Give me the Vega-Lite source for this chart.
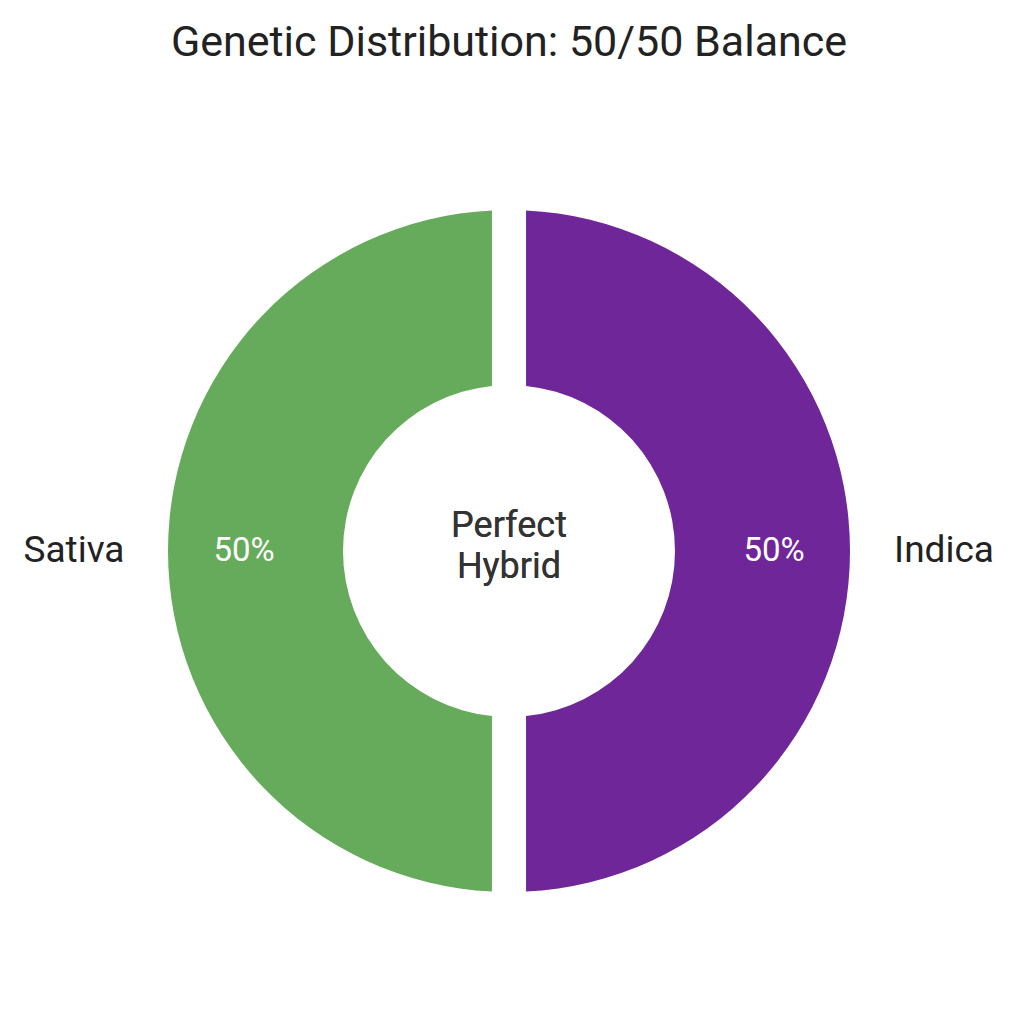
{
  "$schema": "https://vega.github.io/schema/vega-lite/v6.json",
  "width": 1018,
  "height": 942,
  "autosize": "none",
  "padding": {"top": 80, "left": 0, "right": 0, "bottom": 0},
  "background": "white",
  "title": {
    "text": "Genetic Distribution: 50/50 Balance",
    "font": "Roboto",
    "fontSize": 43,
    "fontWeight": "normal",
    "color": "#222222",
    "offset": 15
  },
  "data": {
    "values": [
      {"strain": "Indica", "share": 0.5, "order": 1},
      {"strain": "Sativa", "share": 0.5, "order": 2}
    ]
  },
  "layer": [
    {
      "mark": {"type": "arc", "innerRadius": 166, "outerRadius": 341, "padAngle": 0.09},
      "encoding": {
        "theta": {"field": "share", "type": "quantitative", "stack": true},
        "order": {"field": "order"},
        "color": {
          "field": "strain",
          "type": "nominal",
          "scale": {"domain": ["Sativa", "Indica"], "range": ["#66ab5c", "#6f2699"]},
          "legend": null
        }
      }
    },
    {
      "mark": {"type": "text", "radius": 265, "font": "Roboto", "fontSize": 33, "color": "white", "baseline": "middle"},
      "encoding": {
        "theta": {"field": "share", "type": "quantitative", "stack": true},
        "order": {"field": "order"},
        "text": {"field": "share", "type": "quantitative", "format": ".0%"}
      }
    },
    {
      "mark": {"type": "text", "radius": 435, "font": "Roboto", "fontSize": 37, "color": "#222222", "baseline": "middle"},
      "encoding": {
        "theta": {"field": "share", "type": "quantitative", "stack": true},
        "order": {"field": "order"},
        "text": {"field": "strain", "type": "nominal"}
      }
    },
    {
      "mark": {"type": "text", "font": "Roboto", "fontSize": 36, "lineHeight": 41, "color": "#333333", "baseline": "middle", "dy": -25},
      "encoding": {
        "text": {"value": ["Perfect", "Hybrid"]}
      }
    }
  ]
}
